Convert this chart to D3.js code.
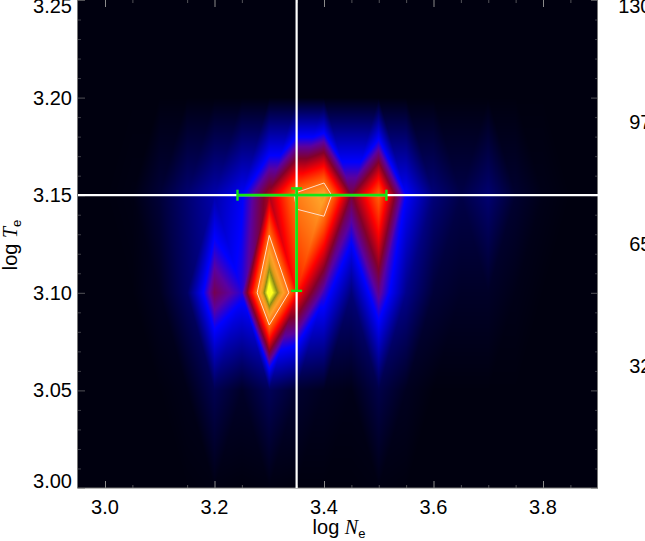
<!DOCTYPE html>
<html>
<head>
<meta charset="utf-8">
<script src="https://cdn.jsdelivr.net/npm/d3@7"></script>
<style>
html, body { margin: 0; padding: 0; background: #fff; overflow: hidden; }
svg { display: block; }
text { font-family: "Liberation Sans", Arial, sans-serif; font-size: 20px; fill: #000; }
</style>
</head>
<body>
<svg></svg>
<script>
const width = 645;
const height = 541;
const left = 78, right = 598, top_ = 0, bottom = 488;

// emission measure grid, relative to the peak (1 = 130)
const neGrid = [2.95, 3.00, 3.05, 3.10, 3.15, 3.20, 3.25, 3.30, 3.35, 3.40, 3.45, 3.50, 3.55, 3.60, 3.65, 3.70, 3.75, 3.80, 3.85, 3.90];
const teGrid = [3.00, 3.05, 3.10, 3.15, 3.20, 3.25];
const row300 = [0, 0, 0, 0, 0, 0.004, 0, 0.004, 0, 0, 0, 0.004, 0, 0, 0, 0, 0, 0, 0, 0];
const row305 = [0, 0, 0, 0, 0.01, 0.08, 0.03, 0.09, 0.04, 0.02, 0.01, 0.07, 0.02, 0, 0, 0, 0, 0, 0, 0];
const row310 = [0, 0, 0, 0.02, 0.10, 0.42, 0.32, 1, 0.58, 0.336, 0.13, 0.38, 0.15, 0.05, 0.03, 0.03, 0.01, 0, 0, 0];
const row315 = [0, 0, 0.005, 0.05, 0.12, 0.19, 0.28, 0.49, 0.72, 0.80, 0.44, 0.68, 0.29, 0.13, 0.07, 0.12, 0.04, 0.01, 0, 0];
const row320 = [0, 0, 0, 0, 0, 0, 0, 0, 0, 0, 0, 0, 0, 0, 0, 0, 0, 0, 0, 0];
const row325 = [0, 0, 0, 0, 0, 0, 0, 0, 0, 0, 0, 0, 0, 0, 0, 0, 0, 0, 0, 0];
const rows = [row300, row305, row310, row315, row320, row325];

const colorStops = [0, 0.1, 0.29, 0.36, 0.45, 0.56, 0.64, 0.70, 0.78, 0.83, 0.875, 0.95];
const colorRamp = ["#00000f", "#000060", "#0000ff", "#5a00a0", "#82002a", "#ff0000", "#ff4600", "#ff7010", "#ffa028", "#e09a18", "#8c8c14", "#ffff1e"];
const contourLevel = [0.7];

const xMajor = [3.0, 3.2, 3.4, 3.6, 3.8];
const xMinor = [3.05, 3.15, 3.25, 3.35, 3.45, 3.5, 3.55, 3.65, 3.7, 3.75, 3.85];
const yMajor = [3.00, 3.05, 3.10, 3.15, 3.20, 3.25];
const yMinor = d3.range(3.01, 3.25, 0.01).filter(d => Math.round(d * 100) % 5 !== 0);
const barLabels = [130, 97, 65, 32];
const barValues = [130, 97.5, 65, 32.5];

// best fit with its error range
const neBest = 3.35, neLow = 3.242, neHigh = 3.514;
const teBest = 3.15, teLow = 3.101, teHigh = 3.1535;

const x = d3.scaleLinear().domain([3.0, 3.8]).range([105, 543]);
const y = d3.scaleLinear().domain([3.0, 3.25]).range([bottom, top_]);
const bar = d3.scaleLinear().domain([0, 130]).range([bottom, top_]);
const color = d3.scaleLinear().domain(colorStops).range(colorRamp).clamp(true);

const colIndex = d3.scaleLinear().domain([neGrid[0], neGrid[neGrid.length - 1]]).range([0, neGrid.length - 1]).clamp(true);
const rowIndex = d3.scaleLinear().domain([teGrid[0], teGrid[teGrid.length - 1]]).range([0, teGrid.length - 1]).clamp(true);

// linear on two triangles per cell, split along the diagonal with the smaller step
function valueAt(ne, te) {
    let cx = colIndex(ne), cy = rowIndex(te);
    let i = Math.min(Math.floor(cx), neGrid.length - 2), j = Math.min(Math.floor(cy), teGrid.length - 2);
    let u = cx - i, v = cy - j;
    let bl = rows[j][i], br = rows[j][i + 1], tl = rows[j + 1][i], tr = rows[j + 1][i + 1];
    if (Math.abs(bl - tr) <= Math.abs(tl - br)) {
        return u >= v ? bl + u * (br - bl) + v * (tr - br) : bl + v * (tl - bl) + u * (tr - tl);
    }
    return u + v <= 1 ? bl + u * (br - bl) + v * (tl - bl) : tr + (1 - u) * (tl - tr) + (1 - v) * (br - tr);
}

let svg = d3.select("svg")
    .attr("width", width)
    .attr("height", height);

// heat map, painted per pixel
let w = right - left, h = bottom - top_;
let canvas = document.createElement("canvas");
canvas.width = w;
canvas.height = h;
let ctx = canvas.getContext("2d");
let img = ctx.createImageData(w, h);
for (let py = 0; py < h; py++) {
    for (let px = 0; px < w; px++) {
        let c = d3.rgb(color(valueAt(x.invert(left + px + 0.5), y.invert(top_ + py + 0.5))));
        let k = (py * w + px) * 4;
        img.data[k] = c.r;
        img.data[k + 1] = c.g;
        img.data[k + 2] = c.b;
        img.data[k + 3] = 255;
    }
}
ctx.putImageData(img, 0, 0);
svg.append("image")
    .attr("x", left)
    .attr("y", top_)
    .attr("width", w)
    .attr("height", h)
    .attr("href", canvas.toDataURL());

// contour at the 0.7 level
let contourNe = d3.scaleLinear().domain([0.5, neGrid.length - 0.5]).range([neGrid[0], neGrid[neGrid.length - 1]]);
let contourTe = d3.scaleLinear().domain([0.5, teGrid.length - 0.5]).range([teGrid[0], teGrid[teGrid.length - 1]]);
let contours = d3.contours().size([neGrid.length, teGrid.length]).thresholds(contourLevel)(rows.flat());
let ringLine = d3.line().x(d => x(contourNe(d[0]))).y(d => y(contourTe(d[1])));
contours.forEach(c => c.coordinates.forEach(poly => poly.forEach(ring => {
    svg.append("path")
        .attr("d", ringLine(ring))
        .attr("fill", "none")
        .attr("stroke", "#ffdcc8")
        .attr("stroke-width", 1);
})));

// frame and ticks
function styleAxis(g) {
    g.select(".domain").remove();
    g.selectAll("line").attr("stroke", "#8a8a8a");
    g.selectAll("text").remove();
}
svg.append("g").attr("transform", `translate(0, ${bottom})`).call(d3.axisTop(x).tickValues(xMajor).tickSize(7)).call(styleAxis);
svg.append("g").attr("transform", `translate(0, ${bottom})`).call(d3.axisTop(x).tickValues(xMinor).tickSize(3)).call(styleAxis).attr("opacity", 0.6);
svg.append("g").attr("transform", `translate(0, ${top_})`).call(d3.axisBottom(x).tickValues(xMajor).tickSize(7)).call(styleAxis);
svg.append("g").attr("transform", `translate(0, ${top_})`).call(d3.axisBottom(x).tickValues(xMinor).tickSize(3)).call(styleAxis).attr("opacity", 0.6);
svg.append("g").attr("transform", `translate(${left}, 0)`).call(d3.axisRight(y).tickValues(yMajor).tickSize(7)).call(styleAxis).attr("opacity", 0.6);
svg.append("g").attr("transform", `translate(${left}, 0)`).call(d3.axisRight(y).tickValues(yMinor).tickSize(3)).call(styleAxis).attr("opacity", 0.45);
svg.append("g").attr("transform", `translate(${right}, 0)`).call(d3.axisLeft(y).tickValues(yMajor).tickSize(7)).call(styleAxis).attr("opacity", 0.6);
svg.append("g").attr("transform", `translate(${right}, 0)`).call(d3.axisLeft(y).tickValues(yMinor).tickSize(3)).call(styleAxis).attr("opacity", 0.45);
svg.append("rect")
    .attr("x", left - 0.5)
    .attr("y", top_ - 0.5)
    .attr("width", w)
    .attr("height", h + 0.5)
    .attr("fill", "none")
    .attr("stroke", "#777");

// crosshair
svg.append("line").attr("x1", x(neBest)).attr("x2", x(neBest)).attr("y1", top_).attr("y2", bottom)
    .attr("stroke", "#fff").attr("stroke-width", 2.2);
svg.append("line").attr("x1", left).attr("x2", right).attr("y1", y(teBest)).attr("y2", y(teBest))
    .attr("stroke", "#fff").attr("stroke-width", 2.2);

// error bars
const green = "#14e614";
const capSize = 5.5;
let errors = svg.append("g").attr("stroke", green).attr("stroke-width", 2.8);
errors.append("line").attr("x1", x(neLow)).attr("x2", x(neHigh)).attr("y1", y(teBest)).attr("y2", y(teBest));
errors.append("line").attr("x1", x(neBest)).attr("x2", x(neBest)).attr("y1", y(teLow)).attr("y2", y(teHigh));
[neLow, neHigh].forEach(d => errors.append("line")
    .attr("x1", x(d)).attr("x2", x(d)).attr("y1", y(teBest) - capSize).attr("y2", y(teBest) + capSize).attr("stroke-width", 2.4));
[teLow, teHigh].forEach(d => errors.append("line")
    .attr("x1", x(neBest) - capSize).attr("x2", x(neBest) + capSize).attr("y1", y(d)).attr("y2", y(d)).attr("stroke-width", 2.4));

// tick labels
svg.selectAll(".xlab").data(xMajor).enter().append("text")
    .attr("x", d => x(d))
    .attr("y", 514)
    .style("text-anchor", "middle")
    .text(d => d.toFixed(1));
svg.selectAll(".ylab").data(yMajor).enter().append("text")
    .attr("x", 72)
    .attr("y", d => d === 3.00 ? y(d) : d === 3.25 ? y(d) + 12.7 : y(d) + 7)
    .style("text-anchor", "end")
    .text(d => d.toFixed(2));
svg.selectAll(".barlab").data(barLabels).enter().append("text")
    .attr("x", 651.5)
    .attr("y", (d, i) => i === 0 ? bar(barValues[i]) + 12.7 : bar(barValues[i]) + 7)
    .style("text-anchor", "end")
    .text(d => d);

// axis titles
function title(sel, sym) {
    sel.style("text-anchor", "middle");
    sel.append("tspan").text("log ");
    sel.append("tspan").text(sym).style("font-family", "'Liberation Serif', serif").style("font-style", "italic");
    sel.append("tspan").text("e").attr("dy", 4).style("font-size", "13px");
}
svg.append("text").attr("x", 339).attr("y", 534).call(title, "N");
svg.append("text").attr("transform", "rotate(-90)").attr("x", -245).attr("y", 17).call(title, "T");
</script>
</body>
</html>
